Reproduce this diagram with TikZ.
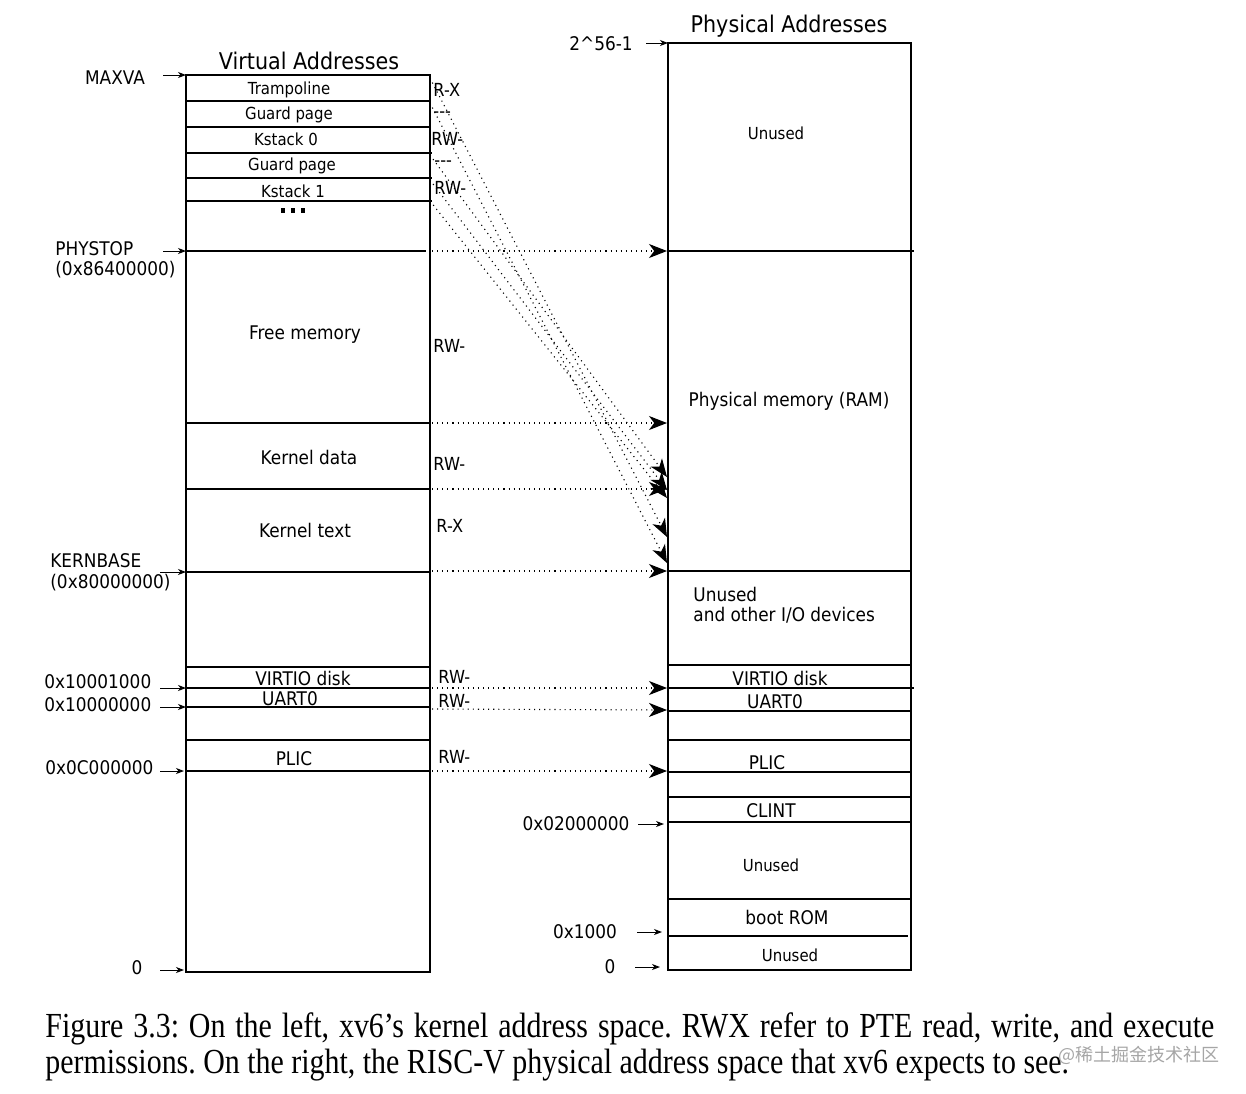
\documentclass[tikz,border=0pt]{standalone}
\usepackage{fontspec}
\setmainfont[FakeStretch=0.9]{DejaVu Sans}
\newfontfamily\capfont[FakeStretch=0.85]{Liberation Serif}
\newfontfamily\cjk{Noto Sans CJK SC}
\usetikzlibrary{arrows.meta}
\tikzset{
  outer/.style={draw, line width=1pt},
  row/.style={line width=0.65pt},
  map/.style={dotted, line width=0.55pt, -{Stealth[length=9pt,width=7pt,inset=2.6pt]}},
  addr/.style={line width=0.5pt, -{Stealth[length=4pt,width=3pt,inset=1.2pt]}},
  lab/.style={inner sep=0pt, font=\fontsize{9.4}{11}\selectfont},
  sm/.style={inner sep=0pt, font=\fontsize{8.3}{10}\selectfont},
  perm/.style={inner sep=0pt, font=\fontsize{9}{11}\selectfont},
  ttl/.style={inner sep=0pt, font=\fontsize{11.5}{13}\selectfont},
  captxt/.style={inner sep=0pt, anchor=base west, font=\capfont\fontsize{17.6}{18.5}\selectfont},
}
\begin{document}
\begin{tikzpicture}[x=0.5pt,y=-0.5pt]
\useasboundingbox (0,0) rectangle (1246,1093);
\fill[white] (0,0) rectangle (1246,1093);

% ---------------- Virtual address space ----------------
\node[ttl] (vtitle) at (309,61) {Virtual Addresses};
\draw[outer] (186,75) rectangle (430,972);
\foreach \y in {101,127} \draw[row] (186,\y) -- (430,\y);
\foreach \y in {153,178,201} \draw[row] (186,\y) -- (432,\y);
\draw[row] (186,251) -- (426,251);
\foreach \y in {423,489,572,667,688,707,740,771} \draw[row] (186,\y) -- (430,\y);

\node[sm] (vtr) at (289,90) {Trampoline};
\node[sm] (vg0) at (289,115) {Guard page};
\node[sm] (vk0) at (286,139) {Kstack 0};
\node[sm] (vg1) at (292,166) {Guard page};
\node[sm] (vk1) at (293,191) {Kstack 1};
\foreach \x in {283,293,303} \fill (\x-2,208) rectangle (\x+2,213);
\node[lab] (vfree) at (305,335) {Free memory};
\node[lab] (vkd) at (309,457) {Kernel data};
\node[lab] (vkt) at (305,530) {Kernel text};
\node[lab] (vvirt) at (303,678) {VIRTIO disk};
\node[lab] (vuart) at (290,699) {UART0};
\node[lab] (vplic) at (294,759) {PLIC};

% permissions
\node[perm, anchor=west] (p1) at (433,90) {R-X};
\node[perm, anchor=west] (p2) at (433,115) {-{}-{}-};
\node[perm, anchor=west] (p3) at (431,139) {RW-};
\node[perm, anchor=west] (p4) at (434,164) {-{}-{}-};
\node[perm, anchor=west] (p5) at (434,188) {RW-};
\node[perm, anchor=west] (p6) at (433,346) {RW-};
\node[perm, anchor=west] (p7) at (433,464) {RW-};
\node[perm, anchor=west] (p8) at (436,526) {R-X};
\node[perm, anchor=west] (p9) at (438,677) {RW-};
\node[perm, anchor=west] (p10) at (438,701) {RW-};
\node[perm, anchor=west] (p11) at (438,757) {RW-};

% left address labels
\node[lab] (lmax) at (115,78) {MAXVA};
\node[lab, anchor=west] (lphys) at (55,249) {PHYSTOP};
\node[lab, anchor=west] (lphysv) at (55,270) {(0x86400000)};
\node[lab, anchor=west] (lkern) at (50,561) {KERNBASE};
\node[lab, anchor=west] (lkernv) at (50,583) {(0x80000000)};
\node[lab, anchor=west] (lvirt) at (44,682) {0x10001000};
\node[lab, anchor=west] (luart) at (44,705) {0x10000000};
\node[lab, anchor=west] (lplic) at (45,768) {0x0C000000};
\node[lab] (lzero) at (137,968) {0};

\coordinate (amax) at (163,75);   \coordinate (bmax) at (186,75);
\coordinate (aphy) at (163,251);  \coordinate (bphy) at (186,251);
\coordinate (aker) at (160,572);  \coordinate (bker) at (186,572);
\coordinate (avir) at (160,688);  \coordinate (bvir) at (186,688);
\coordinate (auar) at (160,707);  \coordinate (buar) at (186,707);
\coordinate (apli) at (160,771);  \coordinate (bpli) at (184,771);
\coordinate (azer) at (160,970);  \coordinate (bzer) at (184,970);
\foreach \n in {max,phy,ker,vir,uar,pli,zer} \draw[addr] (a\n) -- (b\n);

% ---------------- Physical address space ----------------
\node[ttl] (ptitle) at (789,26) {Physical Addresses};
\draw[outer] (668,43) rectangle (911,970);
\draw[row] (668,251) -- (914,251);
\draw[row] (668,688) -- (914,688);
\draw[row] (668,936) -- (908,936);
\foreach \y in {571,665,711,740,772,797,822,899} \draw[row] (668,\y) -- (911,\y);

\node[sm] (pun1) at (776,133) {Unused};
\node[lab] (pram) at (789,401) {Physical memory (RAM)};
\node[lab, anchor=west] (pun2) at (693,594) {Unused};
\node[lab, anchor=west] (pio) at (693,615) {and other I/O devices};
\node[lab] (pvirt) at (780,678) {VIRTIO disk};
\node[lab] (puart) at (775,702) {UART0};
\node[lab] (pplic) at (767,763) {PLIC};
\node[lab] (pclint) at (771,811) {CLINT};
\node[sm] (pun3) at (771,865) {Unused};
\node[lab] (pboot) at (787,917) {boot ROM};
\node[sm] (pun4) at (790,955) {Unused};

\node[lab] (rtop) at (601,44) {2\textasciicircum 56-1};
\node[lab] (rclint) at (576,824) {0x02000000};
\node[lab] (rboot) at (585,932) {0x1000};
\node[lab] (rzero) at (610,967) {0};
\coordinate (ctop) at (646,43);  \coordinate (dtop) at (668,43);
\coordinate (ccli) at (638,824); \coordinate (dcli) at (664,824);
\coordinate (cboo) at (637,932); \coordinate (dboo) at (662,932);
\coordinate (czer) at (635,967); \coordinate (dzer) at (660,967);
\foreach \n in {top,cli,boo,zer} \draw[addr] (c\n) -- (d\n);

% ---------------- mappings ----------------
\coordinate (s1) at (432,251); \coordinate (e1) at (667,251);
\coordinate (s2) at (432,423); \coordinate (e2) at (667,423);
\coordinate (s3) at (432,489); \coordinate (e3) at (667,489);
\coordinate (s4) at (432,571); \coordinate (e4) at (667,571);
\coordinate (s5) at (432,688); \coordinate (e5) at (667,688);
\coordinate (s6) at (432,709); \coordinate (e6) at (667,710);
\coordinate (s7) at (432,771); \coordinate (e7) at (667,771);
\foreach \i in {1,...,7} \draw[map] (s\i) -- (e\i);

\coordinate (t1) at (430,78);  \coordinate (f1) at (667,537);
\coordinate (t2) at (430,103); \coordinate (f2) at (667,563);
\coordinate (t3) at (430,155); \coordinate (f3) at (667,477);
\coordinate (t4) at (430,180); \coordinate (f4) at (667,490);
\coordinate (t5) at (430,201); \coordinate (f5) at (667,498);
\foreach \i in {1,...,5} \draw[map] (t\i) -- (f\i);

% ---------------- caption ----------------
\node[captxt] (cap1) at (45,1037)
  {\frenchspacing\makebox[584.5pt][s]{Figure 3.3: On the left, xv6’s kernel address space. RWX refer to PTE read, write, and execute}};
\node[captxt] (cap2) at (45,1073)
  {\frenchspacing permissions. On the right, the RISC-V physical address space that xv6 expects to see.};
\node[inner sep=0pt, anchor=base west, text=black!35, font=\cjk\fontsize{9}{10}\selectfont] (wm) at (1058,1061) {@稀土掘金技术社区};
\end{tikzpicture}
\end{document}
